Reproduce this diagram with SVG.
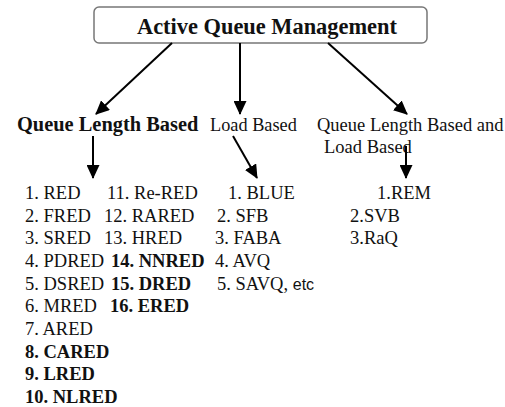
<svg xmlns="http://www.w3.org/2000/svg" width="505" height="407" viewBox="0 0 505 407">
<defs>
<marker id="ah" markerUnits="userSpaceOnUse" markerWidth="14" markerHeight="13" refX="13" refY="6.5" orient="auto">
<path d="M0,0 L14,6.5 L0,13 Z" fill="#000"/>
</marker>
<style>
.s{font-family:"Liberation Serif","Times New Roman",serif;fill:#111;}
.t{font-size:18.5px;}
.b{font-weight:bold;}
.c{stroke:#000;stroke-width:2;fill:none;marker-end:url(#ah);}
</style>
</defs>
<rect width="505" height="407" fill="#fff"/>
<g class="s">
<g id="root">
<rect x="94" y="7" width="333" height="36" rx="5" fill="#fff" stroke="#777" stroke-width="1.5"/>
<text x="137" y="34" font-size="22.4" class="b">Active Queue Management</text>
</g>
<g id="qlb">
<text x="17" y="131" font-size="20.4" class="b">Queue Length Based</text>
</g>
<g id="lb">
<text x="210" y="131" font-size="18.3">Load Based</text>
</g>
<g id="qllb">
<text x="317" y="131" font-size="18.5">Queue Length Based and</text>
<text x="324" y="153" font-size="18.5">Load Based</text>
</g>
<g id="list1" class="t">
<text x="25" y="199">1. RED</text>
<text x="25" y="222">2. FRED</text>
<text x="25" y="244">3. SRED</text>
<text x="25" y="267">4. PDRED</text>
<text x="25" y="290">5. DSRED</text>
<text x="25" y="312">6. MRED</text>
<text x="25" y="335">7. ARED</text>
<text x="25" y="358" class="b">8. CARED</text>
<text x="25" y="380" class="b">9. LRED</text>
<text x="25" y="403" class="b">10. NLRED</text>
<text x="107" y="199">11. Re-RED</text>
<text x="104" y="222">12. RARED</text>
<text x="104" y="244">13. HRED</text>
<text x="111" y="267" class="b">14. NNRED</text>
<text x="111" y="290" class="b">15. DRED</text>
<text x="110" y="312" class="b">16. ERED</text>
</g>
<g id="list2" class="t">
<text x="228" y="199">1. BLUE</text>
<text x="217" y="222">2. SFB</text>
<text x="215" y="244">3. FABA</text>
<text x="215" y="267">4. AVQ</text>
<text x="217" y="290">5. SAVQ, <tspan font-family="Liberation Sans, Arial, sans-serif" font-size="16">etc</tspan></text>
</g>
<g id="list3" class="t">
<text x="377" y="199">1.REM</text>
<text x="350" y="222">2.SVB</text>
<text x="350" y="244">3.RaQ</text>
</g>
</g>
<g id="connectors">
<line class="c" x1="172" y1="43" x2="96" y2="114"/>
<line class="c" x1="240" y1="43" x2="240" y2="114"/>
<line class="c" x1="328" y1="43" x2="407" y2="114"/>
<line class="c" x1="93" y1="136" x2="93" y2="178"/>
<line class="c" x1="233" y1="136" x2="257" y2="178"/>
<line class="c" x1="406" y1="146" x2="406" y2="178"/>
</g>
</svg>
